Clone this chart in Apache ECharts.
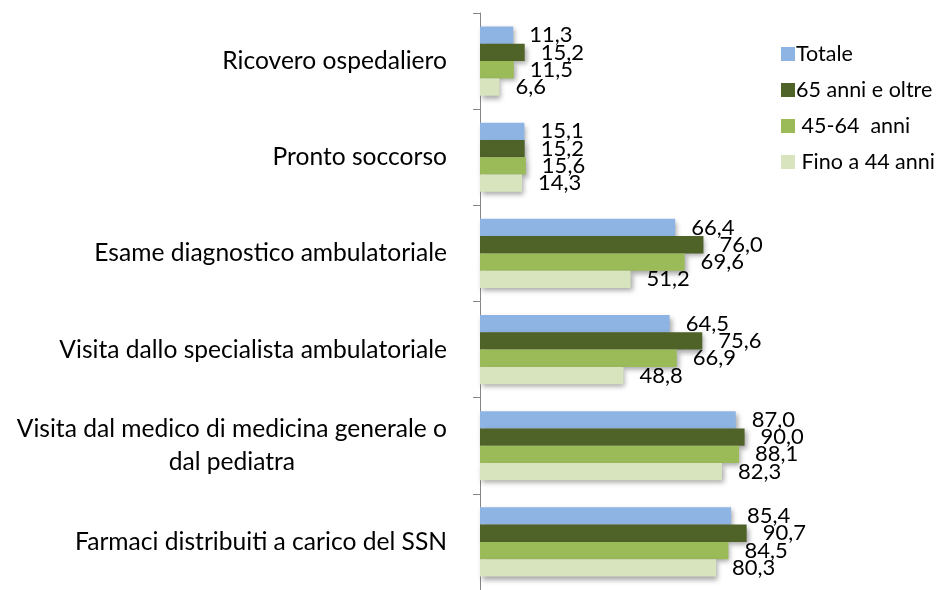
<!DOCTYPE html>
<html>
<head>
<meta charset="utf-8">
<script src="https://cdn.jsdelivr.net/npm/echarts@6/dist/echarts.min.js"></script>
<style>
  html, body { margin: 0; padding: 0; background: #fff; }
  #chart { width: 938px; height: 590px; }
</style>
</head>
<body>
<div id="chart"></div>
<script>
    'use strict';

    // categorie (dall'alto verso il basso)
    const categories = [
        'Ricovero ospedaliero',
        'Pronto soccorso',
        'Esame diagnostico ambulatoriale',
        'Visita dallo specialista ambulatoriale',
        'Visita dal medico di medicina generale o\ndal pediatra',
        'Farmaci distribuiti a carico del SSN'
    ];

    const seriesNames = ['Totale', '65 anni e oltre', ' 45-64  anni', ' Fino a 44 anni'];
    const seriesColors = ['#8eb4e3', '#4f6228', '#9bbb59', '#d7e4bd'];

    const totale = [11.3, 15.1, 66.4, 64.5, 87.0, 85.4];
    const over65 = [15.2, 15.2, 76.0, 75.6, 90.0, 90.7];
    const age4564 = [11.5, 15.6, 69.6, 66.9, 88.1, 84.5];
    const upTo44 = [6.6, 14.3, 51.2, 48.8, 82.3, 80.3];

    const seriesData = [totale, over65, age4564, upTo44];

    const font = 'Lato';

    const chart = echarts.init(document.getElementById('chart'));

    const option = {
        animation: false,
        backgroundColor: '#fff',
        grid: {
            left: 480,
            top: 13,
            width: 294,
            height: 580
        },
        legend: {
            orient: 'vertical',
            left: 776,
            top: 38,
            itemWidth: 14,
            itemHeight: 14,
            itemGap: 14,
            icon: 'rect',
            textStyle: {
                fontFamily: font,
                fontSize: 21.5,
                lineHeight: 20,
                color: '#000',
                padding: [0, 0, 0, -4]
            },
            data: seriesNames
        },
        xAxis: {
            type: 'value',
            min: 0,
            max: 100,
            show: false
        },
        yAxis: {
            type: 'category',
            inverse: true,
            data: categories,
            axisLine: { show: true, lineStyle: { color: '#868686', width: 1 } },
            axisTick: { show: true, length: 7, lineStyle: { color: '#868686' } },
            axisLabel: {
                margin: 33,
                color: '#000',
                fontFamily: font,
                fontSize: 24.6,
                formatter: function (v) {
                    return v.split('\n').map(function (s) { return '{c|' + s + '}'; }).join('\n');
                },
                rich: {
                    c: {
                        align: 'center',
                        fontFamily: font,
                        fontSize: 24.6,
                        lineHeight: 33,
                        color: '#000'
                    }
                }
            },
            splitLine: { show: false }
        },
        series: seriesData.map(function (d, i) {
            return {
                name: seriesNames[i],
                type: 'bar',
                data: d,
                barGap: '0%',
                barCategoryGap: '28%',
                itemStyle: {
                    color: seriesColors[i],
                    shadowColor: 'rgba(0,0,0,0.35)',
                    shadowBlur: 5,
                    shadowOffsetX: 2,
                    shadowOffsetY: 3
                },
                label: {
                    show: true,
                    position: 'right',
                    distance: 16,
                    fontFamily: font,
                    fontSize: 22,
                    color: '#000',
                    formatter: function (p) {
                        return p.value.toFixed(1).replace('.', ',');
                    }
                }
            };
        })
    };

    chart.setOption(option);
</script>
</body>
</html>
